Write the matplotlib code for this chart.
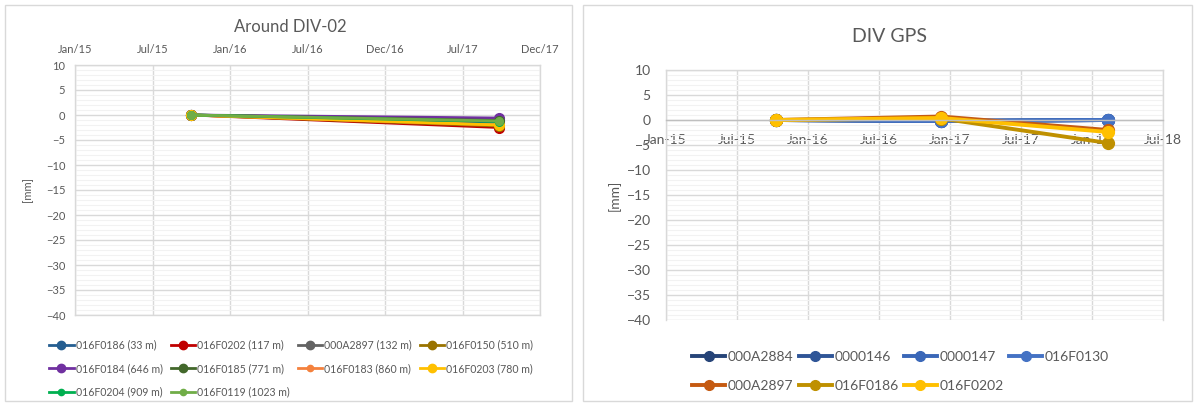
import matplotlib
matplotlib.use("Agg")
import matplotlib.pyplot as plt
import matplotlib.dates as mdates
from matplotlib.patches import Rectangle
from matplotlib.lines import Line2D
import datetime as dt

plt.rcParams['font.family'] = ['Lato', 'DejaVu Sans']

# ---------------- data: left chart ----------------
left_title = "Around DIV-02"
left_dates = ["2015-10-01", "2017-09-25"]
left_names = ["016F0186 (33 m)", "016F0202 (117 m)", "000A2897 (132 m)", "016F0150 (510 m)",
              "016F0184 (646 m)", "016F0185 (771 m)", "016F0183 (860 m)", "016F0203 (780 m)",
              "016F0204 (909 m)", "016F0119 (1023 m)"]
left_values = [[0, -1.5], [0, -2.5], [0, -1.0], [0, -2.2], [0, -0.6],
               [0, -1.1], [0, -2.0], [0, -2.0], [0, -1.3], [0, -1.2]]
left_colors = ["#255E91", "#C00000", "#636363", "#997300", "#7030A0",
               "#43682B", "#F4813D", "#FFC000", "#00B050", "#70AD47"]
left_ticklabels = ["Jan/15", "Jul/15", "Jan/16", "Jul/16", "Dec/16", "Jul/17", "Dec/17"]

# ---------------- data: right chart ----------------
right_title = "DIV GPS"
right_dates = ["2015-10-11", "2016-12-08", "2018-02-10"]
right_names = ["000A2884", "0000146", "0000147", "016F0130", "000A2897", "016F0186", "016F0202"]
right_values = [[0, -0.2, 0], [0, -0.2, 0], [0, -0.2, 0], [0, -0.2, 0],
                [0, 0.7, -2.0], [0, 0.3, -4.6], [0, 0.4, -2.4]]
right_colors = ["#264478", "#2F5597", "#3A67B8", "#4472C4", "#C55A11", "#BF9000", "#FFC000"]
right_ticklabels = ["Jan-15", "Jul-15", "Jan-16", "Jul-16", "Jan-17", "Jul-17", "Jan-18", "Jul-18"]

TXT = "#595959"
W, H = 1197, 407
fig = plt.figure(figsize=(W / 100, H / 100), dpi=100)

def fx(px):
    return px / W

def fy(py):
    return 1 - py / H

# panel borders
for (x0, y0, x1, y1) in [(5, 5, 572, 401), (583, 5, 1192, 401)]:
    fig.add_artist(Rectangle((fx(x0), fy(y1)), fx(x1 - x0), (y1 - y0) / H,
                             transform=fig.transFigure, fill=False,
                             edgecolor="#d9d9d9", linewidth=1.0))

def style_axes(ax, xmin, nint, ticklabels):
    step = 182.5
    ax.set_xlim(xmin, xmin + nint * step)
    ax.set_xticks([xmin + i * step for i in range(nint + 1)])
    ax.set_xticklabels(ticklabels)
    ax.set_ylim(-40, 10)
    ax.set_yticks(range(-40, 11, 5))
    ax.set_yticks(range(-40, 11, 1), minor=True)
    ax.grid(True, which="major", axis="both", color="#d9d9d9", linewidth=1.0)
    ax.grid(True, which="minor", axis="y", color="#f2f2f2", linewidth=0.8)
    ax.set_axisbelow(True)
    for s in ax.spines.values():
        s.set_color("#d9d9d9")
        s.set_linewidth(1.0)
    ax.tick_params(which="both", length=0, colors=TXT)

x0 = mdates.date2num(dt.date(2015, 1, 1))

# ---------------- left chart ----------------
axL = fig.add_axes([fx(75), fy(315), fx(465), 250 / H])
style_axes(axL, x0, 6, left_ticklabels)
axL.xaxis.tick_top()
axL.tick_params(axis="x", pad=7, labelsize=8)
axL.tick_params(axis="y", pad=7, labelsize=8)
lx = [mdates.date2num(dt.date.fromisoformat(d)) for d in left_dates]
left_msize = [6, 6, 6, 6, 6, 6, 4.5, 6, 4.5, 4.5]
legL = []
for name, vals, col, ms in zip(left_names, left_values, left_colors, left_msize):
    axL.plot(lx, vals, color=col, linewidth=2.0, marker="o", markersize=ms + 1,
             clip_on=False)
    legL.append(Line2D([], [], color=col, linewidth=2.0, marker="o", markersize=ms))
fig.text(fx(290), fy(27), left_title, fontsize=12, color=TXT, ha="center", va="center")
axL.set_ylabel("[mm]", fontsize=8, color=TXT, labelpad=9)
order = [0, 4, 8, 1, 5, 9, 2, 6, 3, 7]
axL.legend([legL[i] for i in order], [left_names[i] for i in order],
           ncol=4, loc="upper left", bbox_to_anchor=(fx(44), fy(334)),
           bbox_transform=fig.transFigure, frameon=False, fontsize=7.6,
           labelcolor=TXT, handlelength=2.3, columnspacing=0.75,
           handletextpad=0.2, labelspacing=1.2, borderpad=0)

# ---------------- right chart ----------------
axR = fig.add_axes([fx(666), fy(320), fx(497), 250 / H])
style_axes(axR, x0, 7, right_ticklabels)
axR.spines["bottom"].set_position(("data", 0))
axR.spines["bottom"].set_color("#bfbfbf")
axR.tick_params(axis="x", pad=10, labelsize=10)
axR.tick_params(axis="y", pad=11, labelsize=10)
rx = [mdates.date2num(dt.date.fromisoformat(d)) for d in right_dates]
legR = []
for name, vals, col in zip(right_names, right_values, right_colors):
    axR.plot(rx, vals, color=col, linewidth=2.8, marker="o", markersize=8.5,
             clip_on=False)
    legR.append(Line2D([], [], color=col, linewidth=2.8, marker="o", markersize=7))
fig.text(fx(890), fy(37), right_title, fontsize=14, color=TXT, ha="center", va="center")
axR.set_ylabel("[mm]", fontsize=10, color=TXT, labelpad=4)
orderR = [0, 4, 1, 5, 2, 6, 3]
axR.legend([legR[i] for i in orderR], [right_names[i] for i in orderR],
           ncol=4, loc="upper left", bbox_to_anchor=(fx(685), fy(344)),
           bbox_transform=fig.transFigure, frameon=False, fontsize=10,
           labelcolor=TXT, handlelength=2.4, columnspacing=0.35,
           handletextpad=0.2, labelspacing=1.2, borderpad=0)

fig.savefig("out.png", dpi=100)
